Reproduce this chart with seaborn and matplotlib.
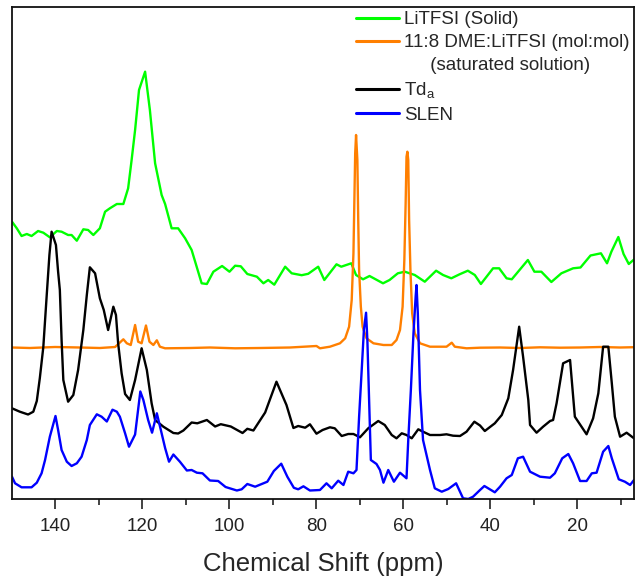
import matplotlib
matplotlib.use("Agg")
import matplotlib.pyplot as plt
from matplotlib.lines import Line2D
import seaborn as sns
import pandas as pd

# ---------------- data (chemical shift in ppm, intensity in arbitrary units) ----------------
green_ppm = [150.0,148.9,147.8,146.6,145.5,144.0,142.8,141.3,139.7,138.6,
             137.1,136.3,135.1,133.6,132.5,131.3,129.8,128.6,127.5,125.9,
             124.4,123.3,122.5,121.7,120.8,119.4,118.3,117.1,115.6,114.8,
             113.3,111.8,110.2,108.7,106.4,105.2,103.7,101.7,100.0,98.7,
             97.4,95.9,93.7,92.2,91.1,89.7,87.2,85.7,83.4,81.9,
             79.6,78.2,75.4,74.3,72.0,70.9,69.3,67.8,64.7,63.2,
             61.3,59.7,57.4,55.1,52.5,50.9,49.0,47.1,45.2,43.6,
             42.2,39.4,38.0,36.3,35.1,31.4,29.9,28.3,26.0,23.7,
             21.0,19.3,17.0,14.6,13.2,12.2,10.6,9.4,8.2,7.0]
green_int = [277.3,270.7,263,265,263,268,266.3,261.7,268,267.3,
             264,264,258.3,269.7,269,264,270.7,287.3,290.7,295,
             295,310.7,339,369,409,427.3,389,335.7,304,295,
             270.7,270.7,260.7,249,215.7,215,227.3,233,227.3,233.3,
             232.7,225,222.3,215.7,219,214.3,232.3,225.7,223.8,225.2,
             232.3,219,234.7,232.3,235.7,224,219.7,223,215.7,219,
             225.7,227.3,224,217.3,228.3,224,220.7,224.7,228.3,224,
             215,230.7,230.7,220.7,219.7,239,227.3,227.3,217,225.7,
             230.7,231.5,243.5,245.7,235.7,247.3,262,245,235,239.5]

orange_ppm = [150.0,145.9,140.1,134.4,129.8,126.3,124.4,123.6,122.7,121.7,
              121.0,120.2,119.2,118.4,117.5,116.7,116.0,114.8,109.1,104.5,
              98.7,93.0,86.1,80.0,79.2,76.9,74.6,73.4,72.5,71.9,
              71.5,71.3,71.1,70.9,70.6,70.4,70.2,69.8,69.4,68.5,
              66.9,64.6,62.7,61.6,60.8,60.2,59.8,59.5,59.3,59.1,
              58.9,58.7,58.4,58.0,57.4,56.2,53.9,50.1,48.9,48.2,
              45.5,42.4,37.8,33.2,28.6,24.0,19.4,14.8,10.2,7.0]
orange_int = [151.5,151,152,151.5,151,152,159.7,155.7,154,174,
              157.3,155.7,173.5,157.3,154,158.7,152.3,150.7,151,151.5,
              150.7,151,151.5,153,150.7,152.3,155.7,160.7,172.3,199,
              245.7,295.7,345.7,364,339,279,229,192.3,172.3,160.7,
              155.7,154,154,159,169,192.3,239,295.7,342.3,347.3,
              339,279,229,185.7,165.7,155.7,152.3,152.3,156.3,152.3,
              150.7,151.3,151.5,151,151.7,151.3,151.5,152,151.5,151.8]

black_ppm = [150.0,148.2,146.3,145.1,144.3,143.6,142.8,142.0,141.4,140.9,
             139.9,139.4,139.0,138.6,138.2,137.1,135.9,134.8,133.6,132.8,
             132.1,130.9,129.8,128.9,127.9,126.7,126.1,125.6,124.8,124.0,
             122.9,121.7,120.2,119.0,117.9,117.1,115.2,112.9,111.8,110.6,
             108.7,107.4,105.2,103.3,102.0,99.7,97.0,95.9,94.5,91.8,
             89.2,86.9,85.3,84.2,82.6,81.5,80.0,78.6,76.9,75.8,
             74.2,72.7,71.5,70.0,68.1,65.8,64.3,62.7,61.6,60.4,
             59.3,58.1,56.6,55.5,53.9,51.6,50.1,48.6,47.0,45.5,
             43.7,42.4,41.3,39.0,37.4,35.9,34.8,33.4,32.5,31.3,
             30.9,29.4,27.9,26.3,25.6,24.8,23.3,21.7,20.6,17.9,
             16.4,15.2,14.1,12.9,12.1,11.4,10.2,8.7,7.0]
black_int = [90.7,87.3,84.5,87.3,98,121,152,205,244,267.3,
             254,227.3,209,159,119,97.3,104,129,169,204,
             231.7,225.7,200.7,189,169,192.3,184,155.7,125.7,105,
             99,119,150.7,129,95.7,79,72.3,66,65.5,68.5,
             76.5,75.7,79,72.5,74.8,72.5,66,70.2,68.5,86.5,
             117.3,94,71,73,71.3,74.7,65.3,69,71.7,70.7,
             63,65,65,61.7,70.7,78,74,64,60.7,65.7,
             64,60.7,69.7,67.3,64,64,64.7,63.3,63,67.3,
             77.3,73.5,68,75.7,84,100.7,129,172.3,142.3,99,
             74,66.3,72.3,78,79,95.7,135.7,139,82.3,64.7,
             80.7,105.7,152.3,152.3,115.7,82.3,62.3,66.3,60.7]

blue_ppm = [150.0,149.3,147.8,145.5,144.3,143.2,142.4,141.3,140.0,139.4,
            138.6,137.4,136.3,135.1,134.0,132.8,132.1,130.5,129.4,128.2,
            126.9,125.9,125.2,124.0,123.1,121.7,120.5,119.8,118.7,117.8,
            116.7,115.6,114.8,113.9,112.9,111.4,109.8,108.7,107.5,106.2,
            104.5,102.6,100.9,98.3,97.2,95.9,94.1,91.3,89.8,88.1,
            86.7,85.2,84.2,83.0,81.5,79.2,77.7,76.5,75.0,73.8,
            72.7,71.5,70.8,70.2,69.6,69.1,68.6,68.3,67.9,67.5,
            66.2,65.4,64.6,63.5,62.2,60.8,59.3,58.9,58.3,57.7,
            57.2,57.0,56.7,56.2,55.5,53.9,52.8,51.2,49.7,47.9,
            46.3,45.1,44.0,42.4,41.4,39.0,37.8,36.3,35.1,33.7,
            32.5,30.9,28.6,26.3,25.2,23.5,22.1,21.0,19.4,17.9,
            16.7,15.6,14.1,12.9,12.1,10.5,9.1,7.9,7.0]
blue_int = [22.3,15.7,11.7,11.7,16.3,25.7,39,62.3,83,69,
            49,37.3,33,35.7,42.3,59,74,84.7,82.3,77.5,
            89.3,87.3,82.3,65.7,52.3,64.5,107.5,99,79,66.3,
            85.7,65.7,51,37.3,44.5,37.3,28.5,29,26.3,25.7,
            18.5,18,12,8.5,9.7,15,12.3,17.3,28,35.3,
            22.3,11.2,9.7,12.7,8.5,9,15.7,10.7,18.3,14,
            27.3,25.7,29,82.3,129,169,186.3,159,99,39,
            35,29,16.3,29,17.3,26.3,20.7,59,109,165.7,
            202.3,214,185.7,109,59,29,10.7,7.3,10,15.7,
            0.7,0,2.3,9,13,6.7,12.3,20.7,24,40.7,
            42.3,27.3,22.3,21.3,25.7,40.7,45,35.7,18,18,
            25.7,26.3,47.3,53,40.7,19.7,17.3,14,19]

series_labels = ["LiTFSI (Solid)", "11:8 DME:LiTFSI (mol:mol)", "Td$_\\mathregular{a}$", "SLEN"]
legend_extra = "     (saturated solution)"
x_ticks = [140, 120, 100, 80, 60, 40, 20]
x_label = "Chemical Shift (ppm)"

# ---------------- styling ----------------
sns.set_style("ticks")
plt.rcParams["font.family"] = ["Liberation Sans", "DejaVu Sans"]
plt.rcParams["mathtext.fontset"] = "custom"
plt.rcParams["mathtext.rm"] = "Liberation Sans"
plt.rcParams["mathtext.it"] = "Liberation Sans"

colors = ["#00ff00", "#ff7f00", "#000000", "#0000ff"]

fig = plt.figure(figsize=(6.37, 5.83), dpi=100)
ax = fig.add_axes([12 / 637, 1 - 499 / 583, 622 / 637, 492 / 583])

series = [(green_ppm, green_int), (orange_ppm, orange_int),
          (black_ppm, black_int), (blue_ppm, blue_int)]
for (xs, ys), c, lab in zip(series, colors, series_labels):
    df = pd.DataFrame({"ppm": xs, "intensity": ys})
    sns.lineplot(data=df, x="ppm", y="intensity", ax=ax, color=c,
                 linewidth=1.7, sort=False, estimator=None, legend=False)

ax.set_xlim(150, 7)
ax.set_ylim(0, 492)
ax.set_xticks(x_ticks)
ax.set_xticks(list(range(130, 9, -20)), minor=True)
ax.set_yticks([])
ax.set_ylabel("")
ax.set_xlabel(x_label, fontsize=18.5, labelpad=12)
ax.tick_params(axis="x", which="major", direction="out", length=7, width=1.2,
               labelsize=13.5, pad=7, color="#222222", labelcolor="#222222")
ax.tick_params(axis="x", which="minor", direction="out", length=4, width=1.2,
               color="#222222")
for s in ax.spines.values():
    s.set_visible(True)
    s.set_linewidth(1.3)
    s.set_color("#111111")

handles = [Line2D([], [], color=colors[0], lw=2.2),
           Line2D([], [], color=colors[1], lw=2.2),
           Line2D([], [], color="none", lw=0),
           Line2D([], [], color=colors[2], lw=2.2),
           Line2D([], [], color=colors[3], lw=2.2)]
labels = [series_labels[0], series_labels[1], legend_extra, series_labels[2], series_labels[3]]
fig.legend(handles, labels, loc="upper left", bbox_to_anchor=(356 / 637, 1 - 11 / 583),
           frameon=False, fontsize=13.5, handlelength=2.3, handletextpad=0.27,
           labelspacing=0.32, borderpad=0, borderaxespad=0)

fig.savefig("out.png", dpi=100)
